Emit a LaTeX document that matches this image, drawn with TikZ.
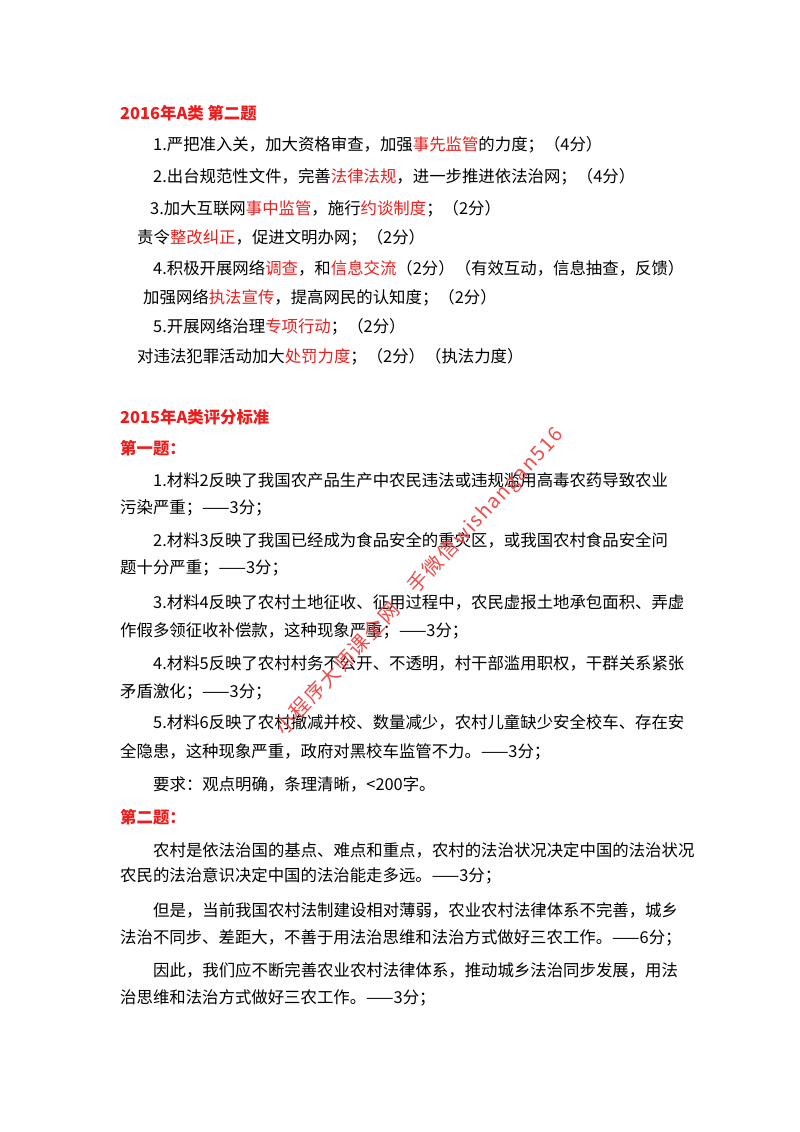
\documentclass[tikz,border=0pt]{standalone}
\usepackage{fontspec}
\setmainfont{Noto Sans CJK SC}
\newfontfamily\lat{Liberation Serif}
\definecolor{rd}{RGB}{235,30,30}
\newcommand{\R}[1]{\textcolor{rd}{#1}}
\begin{document}
\begin{tikzpicture}[x=1pt,y=-1pt,
  t/.style={anchor=west,inner sep=0pt,font=\fontsize{16.4}{17}\selectfont},
  h/.style={t,text=rd,font=\fontsize{16.4}{17}\selectfont\bfseries}]
\useasboundingbox[fill=white] (0,0) rectangle (800,1132);
\node[h] (a0) at (120,113) {2016年A类 第二题};
\node[t] (a1) at (153,145) {1.严把准入关，加大资格审查，加强\R{事先监管}的力度；（4分）};
\node[t] (a2) at (153,177) {2.出台规范性文件，完善\R{法律法规}，进一步推进依法治网；（4分）};
\node[t] (a3) at (150,209) {3.加大互联网\R{事中监管}，施行\R{约谈制度}；（2分）};
\node[t] (a4) at (137,238) {责令\R{整改纠正}，促进文明办网；（2分）};
\node[t] (a5) at (153,268) {4.积极开展网络\R{调查}，和\R{信息交流}（2分）（有效互动，信息抽查，反馈）};
\node[t] (a6) at (143,298) {加强网络\R{执法宣传}，提高网民的认知度；（2分）};
\node[t] (a7) at (153,327) {5.开展网络治理\R{专项行动}；（2分）};
\node[t] (a8) at (137,357) {对违法犯罪活动加大\R{处罚力度}；（2分）（执法力度）};
\node[h] (b0) at (120,417) {2015年A类评分标准};
\node[h] (b1) at (120,448) {第一题：};
\node[t] (c1) at (153,480) {1.材料2反映了我国农产品生产中农民违法或违规滥用高毒农药导致农业};
\node[t] (c2) at (120,508) {污染严重；——3分；};
\node[t] (c3) at (153,540) {2.材料3反映了我国已经成为食品安全的重灾区，或我国农村食品安全问};
\node[t] (c4) at (120,568) {题十分严重；——3分；};
\node[t] (c5) at (153,602) {3.材料4反映了农村土地征收、征用过程中，农民虚报土地承包面积、弄虚};
\node[t] (c6) at (120,631) {作假多领征收补偿款，这种现象严重；——3分；};
\node[t] (c7) at (153,663) {4.材料5反映了农村村务不公开、不透明，村干部滥用职权，干群关系紧张};
\node[t] (c8) at (120,692) {矛盾激化；——3分；};
\node[t] (c9) at (153,722) {5.材料6反映了农村撤减并校、数量减少，农村儿童缺少安全校车、存在安};
\node[t] (c10) at (120,752) {全隐患，这种现象严重，政府对黑校车监管不力。——3分；};
\node[t] (c11) at (153,784) {要求：观点明确，条理清晰，<200字。};
\node[h] (b2) at (120,817) {第二题：};
\node[t] (d1) at (153,850) {农村是依法治国的基点、难点和重点，农村的法治状况决定中国的法治状况};
\node[t] (d2) at (120,876) {农民的法治意识决定中国的法治能走多远。——3分；};
\node[t] (d3) at (153,910) {但是，当前我国农村法制建设相对薄弱，农业农村法律体系不完善，城乡};
\node[t] (d4) at (120,938) {法治不同步、差距大，不善于用法治思维和法治方式做好三农工作。——6分；};
\node[t] (d5) at (153,970) {因此，我们应不断完善农业农村法律体系，推动城乡法治同步发展，用法};
\node[t] (d6) at (120,998) {治思维和法治方式做好三农工作。——3分；};
\node[anchor=center,rotate=47,text=rd!80,font=\fontsize{20}{20}\selectfont\itshape\addfontfeature{LetterSpace=8},inner sep=0pt] (wm) at (420,582) {小程序大师课全网　手微信wishangan516};
\end{tikzpicture}
\end{document}
